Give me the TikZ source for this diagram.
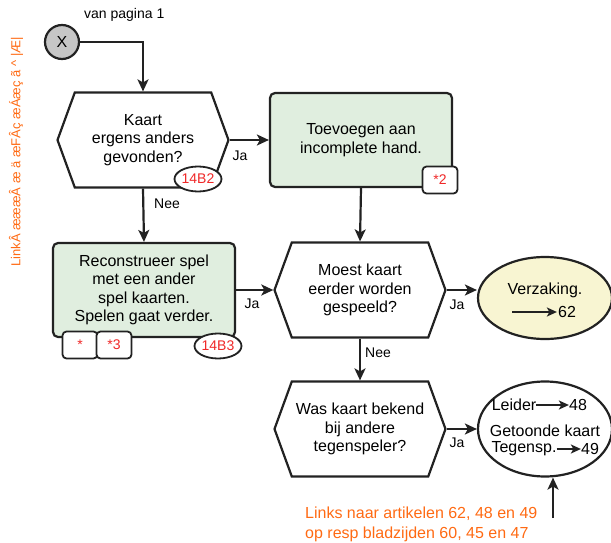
\documentclass[tikz,border=0pt]{standalone}
\usepackage{fontspec}
\setmainfont{Liberation Sans}
\usepackage{xcolor}
\usetikzlibrary{shapes.symbols,shapes.geometric,arrows.meta,positioning,calc}
\definecolor{fcgreen}{HTML}{E0EEDF}
\definecolor{fcyellow}{HTML}{F8F5D2}
\definecolor{fcgray}{HTML}{C6C6C6}
\definecolor{fcorange}{HTML}{FF6A13}
\definecolor{fcred}{HTML}{F02828}
\definecolor{fcline}{HTML}{222222}
\newcommand{\mainfs}{\fontsize{16}{18.5}\selectfont}
\newcommand{\smallfs}{\fontsize{14}{16}\selectfont}
\tikzset{
    question/.style={shape=signal, signal to=east and west,
        signal pointer angle=140, draw=fcline, line width=2.2pt,
        fill=white, minimum width=171pt, minimum height=95pt,
        inner sep=0pt, align=center, font=\mainfs},
    action/.style={rectangle, rounded corners=5pt, draw=fcline,
        line width=2.2pt, fill=fcgreen, minimum width=182pt,
        minimum height=94pt, align=center, font=\mainfs},
    outcome/.style={ellipse, draw=fcline, line width=2.2pt,
        fill=#1, inner sep=0pt},
    badgebox/.style={rectangle, rounded corners=4pt, draw=fcline,
        line width=1.8pt, fill=white, minimum width=35pt,
        minimum height=27pt, inner sep=0pt, font=\smallfs\color{fcred}},
    badgeoval/.style={ellipse, draw=fcline, line width=1.8pt,
        fill=white, minimum width=47pt, minimum height=25pt,
        inner sep=0pt, font=\smallfs\color{fcred}},
    flowlabel/.style={font=\smallfs, inner sep=1pt},
    flow/.style={draw=fcline, line width=2.2pt,
        -{Stealth[length=12pt,width=11pt,inset=3pt]}},
    thinflow/.style={draw=fcline, line width=1.8pt,
        -{Stealth[length=10pt,width=9pt,inset=2.5pt]}},
    note/.style={font=\mainfs\color{fcorange}, inner sep=0pt},
}

\begin{document}
\begin{tikzpicture}[x=1pt, y=-1pt]

    \useasboundingbox (0,0) rectangle (611,543);

    % -- start ---------------------------------------------------------------
    \node[circle, draw=fcline, line width=2.2pt, fill=fcgray,
        minimum size=34pt, inner sep=0pt, font=\mainfs] (start) at (62,42) {X};
    \node[flowlabel, anchor=west] (frompage) at (83,15) {van pagina 1};

    % -- decisions and actions -----------------------------------------------
    \node[question] (found) at (143,140) {Kaart\\ergens anders\\gevonden?};
    \node[action] (addhand) at (361,140) {Toevoegen aan\\incomplete hand.};
    \node[action] (rebuild) at (144,290)
        {Reconstrueer spel\\met een ander\\spel kaarten.\\Spelen gaat verder.};
    \node[question] (played) at (360,290) {Moest kaart\\eerder worden\\gespeeld?};
    \node[question] (known) at (360,429) {Was kaart bekend\\bij andere\\tegenspeler?};

    % -- outcomes ------------------------------------------------------------
    \node[outcome=fcyellow, minimum width=134pt, minimum height=82pt]
        (revoke) at (545,298) {};
    \node[font=\mainfs] (revoketxt) at (545,290) {Verzaking.};
    \coordinate (revokefrom) at (512,312);
    \node[font=\mainfs, inner sep=1pt] (art62) at (567,312) {62};
    \draw[thinflow] (revokefrom) -- (art62);

    \node[outcome=white, minimum width=134pt, minimum height=95pt]
        (shown) at (545,429) {};
    \node[font=\mainfs, inner sep=0pt] (leader) at (514,405) {Leider};
    \node[font=\mainfs, inner sep=0pt] (art48) at (578,405) {48};
    \node[font=\mainfs, inner sep=0pt] (shownkaart) at (545,431) {Getoonde kaart};
    \node[font=\mainfs, inner sep=0pt] (opp) at (524,449) {Tegensp.};
    \node[font=\mainfs, inner sep=0pt] (art49) at (590,449) {49};
    \draw[thinflow] (leader) -- (art48);
    \draw[thinflow] (opp) -- (art49);

    % -- badges --------------------------------------------------------------
    \node[badgeoval] (b14b2) at (198,179) {14B2};
    \node[badgebox] (star2) at (440,180) {*2};
    \node[badgebox] (star) at (80,345) {*};
    \node[badgebox] (star3) at (114,345) {*3};
    \node[badgeoval] (b14b3) at (218,346) {14B3};

    % -- connectors ----------------------------------------------------------
    \draw[flow] (start.east) -| (found.north);
    \draw[flow] (found.east) -- (addhand.west);
    \draw[flow] (found.south) -- (rebuild.north);
    \draw[flow] (addhand.south) -- (played.north);
    \draw[flow] (rebuild.east) -- (played.west);
    \draw[flow] (played.east) -- (played.east -| revoke.west);
    \draw[flow] (played.south) -- (known.north);
    \draw[flow] (known.east) -- (shown.west);

    \node[flowlabel] (ja1) at (240,156) {Ja};
    \node[flowlabel] (nee1) at (167,204) {Nee};
    \node[flowlabel] (ja2) at (252,304) {Ja};
    \node[flowlabel] (ja3) at (457,305) {Ja};
    \node[flowlabel] (nee2) at (378,353) {Nee};
    \node[flowlabel] (ja4) at (457,443) {Ja};

    % -- link notes ----------------------------------------------------------
    \node[note, anchor=north west, align=left, font=\fontsize{16}{20}\selectfont\color{fcorange}]
        (links) at (305,507) {Links naar artikelen 62, 48 en 49\\op resp bladzijden 60, 45 en 47};
    \coordinate (linkfoot) at (553,518);
    \draw[flow] (linkfoot) -- (linkfoot |- shown.south);

    \node[note, rotate=90, font=\fontsize{13}{15}\selectfont\color{fcorange}] (sidenote) at (16,152)
        {LinkÂ æææÂ æ ä æFÂç æÁæç ã \textasciicircum{} |Æ|};

\end{tikzpicture}
\end{document}
